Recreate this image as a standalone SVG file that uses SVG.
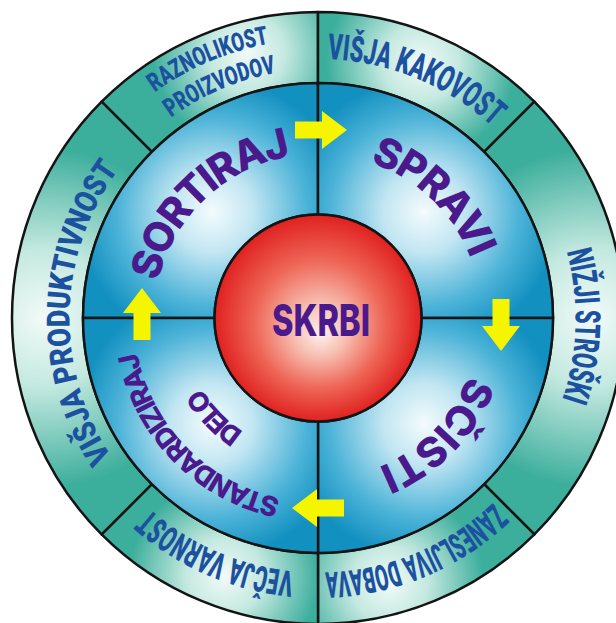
<svg xmlns="http://www.w3.org/2000/svg" width="616" height="623" viewBox="0 0 616 623">
  <defs>
    <style>
      .line{stroke:#141414;stroke-width:2.5;stroke-linejoin:round}
      .outer-txt{font-family:Roboto,'Liberation Sans',sans-serif;font-weight:900;fill:#1c51a0}
      .step-txt{font-family:Inter,'Liberation Sans',sans-serif;font-weight:800;fill:#4a1a8c}
      .arrow{fill:#f5f500}
    </style>

    <!-- outer ring segment shading -->
    <radialGradient id="gOutTL" gradientUnits="userSpaceOnUse" cx="246.8" cy="52.4" r="95">
      <stop offset="0" stop-color="#f2faf8"/><stop offset="0.4" stop-color="#c4e9e0"/><stop offset="1" stop-color="#3cae9c"/>
    </radialGradient>
    <radialGradient id="gOutTR" gradientUnits="userSpaceOnUse" cx="421" cy="63" r="95">
      <stop offset="0" stop-color="#f2faf8"/><stop offset="0.4" stop-color="#c4e9e0"/><stop offset="1" stop-color="#3cae9c"/>
    </radialGradient>
    <radialGradient id="gOutR" gradientUnits="userSpaceOnUse" cx="593" cy="318" r="170">
      <stop offset="0" stop-color="#f2faf8"/><stop offset="0.4" stop-color="#c4e9e0"/><stop offset="1" stop-color="#3cae9c"/>
    </radialGradient>
    <radialGradient id="gOutBR" gradientUnits="userSpaceOnUse" cx="389.2" cy="583.6" r="95">
      <stop offset="0" stop-color="#f2faf8"/><stop offset="0.4" stop-color="#c4e9e0"/><stop offset="1" stop-color="#3cae9c"/>
    </radialGradient>
    <radialGradient id="gOutBL" gradientUnits="userSpaceOnUse" cx="224" cy="576.4" r="95">
      <stop offset="0" stop-color="#f2faf8"/><stop offset="0.4" stop-color="#c4e9e0"/><stop offset="1" stop-color="#3cae9c"/>
    </radialGradient>
    <radialGradient id="gOutL" gradientUnits="userSpaceOnUse" cx="43" cy="318" r="170">
      <stop offset="0" stop-color="#f2faf8"/><stop offset="0.4" stop-color="#c4e9e0"/><stop offset="1" stop-color="#3cae9c"/>
    </radialGradient>

    <!-- middle ring quadrant shading -->
    <radialGradient id="gQTL" gradientUnits="userSpaceOnUse" cx="212" cy="212" r="135">
      <stop offset="0" stop-color="#f4fbfd"/><stop offset="0.3" stop-color="#c2e6f2"/><stop offset="0.7" stop-color="#4cb3d8"/><stop offset="1" stop-color="#1290c0"/>
    </radialGradient>
    <radialGradient id="gQTR" gradientUnits="userSpaceOnUse" cx="424" cy="212" r="135">
      <stop offset="0" stop-color="#f4fbfd"/><stop offset="0.3" stop-color="#c2e6f2"/><stop offset="0.7" stop-color="#4cb3d8"/><stop offset="1" stop-color="#1290c0"/>
    </radialGradient>
    <radialGradient id="gQBR" gradientUnits="userSpaceOnUse" cx="424" cy="424" r="135">
      <stop offset="0" stop-color="#f4fbfd"/><stop offset="0.3" stop-color="#c2e6f2"/><stop offset="0.7" stop-color="#4cb3d8"/><stop offset="1" stop-color="#1290c0"/>
    </radialGradient>
    <radialGradient id="gQBL" gradientUnits="userSpaceOnUse" cx="212" cy="424" r="135">
      <stop offset="0" stop-color="#f4fbfd"/><stop offset="0.3" stop-color="#c2e6f2"/><stop offset="0.7" stop-color="#4cb3d8"/><stop offset="1" stop-color="#1290c0"/>
    </radialGradient>

    <!-- centre sphere -->
    <radialGradient id="gCore" gradientUnits="userSpaceOnUse" cx="318" cy="318" r="104" fx="321" fy="334">
      <stop offset="0" stop-color="#fdf1ee"/><stop offset="0.25" stop-color="#f7c0b3"/><stop offset="0.62" stop-color="#ee6656"/><stop offset="1" stop-color="#e0201f"/>
    </radialGradient>

    <!-- baseline arcs, all centred on the top of the wheel -->
    <path id="r278" d="M39.5,318 A278.5,278.5 0 0 1 596.5,318"/>
    <path id="r259" d="M59,318 A259,259 0 0 1 577,318"/>
    <path id="r257" d="M60.5,318 A257.5,257.5 0 0 1 575.5,318"/>
    <path id="r254" d="M63.5,318 A254.5,254.5 0 0 1 572.5,318"/>
    <path id="r248" d="M69.5,318 A248.5,248.5 0 0 1 566.5,318"/>
    <path id="r184" d="M134,318 A184,184 0 0 1 502,318"/>
    <path id="r164" d="M154,318 A164,164 0 0 1 482,318"/>
    <path id="r161" d="M157,318 A161,161 0 0 1 479,318"/>
    <path id="r136" d="M182,318 A136,136 0 0 1 454,318"/>

    <path id="arrow" d="M-26,-8.5 H1 V-19 L26,0 L1,19 V8.5 H-26 Z"/>
  </defs>

  <rect width="616" height="623" fill="#ffffff"/>

  <!-- outer ring: benefits -->
  <g id="benefit-variety">
    <path class="line" fill="url(#gOutTL)" d="M318,12 A306,306 0 0 0 101.62,101.62 L151.83,151.83 A235,235 0 0 1 318,83 Z"/>
    <text class="outer-txt" font-size="26" text-anchor="middle" transform="rotate(-23 318 318)"><textPath href="#r278" startOffset="50%" textLength="125" lengthAdjust="spacingAndGlyphs">RAZNOLIKOST</textPath></text>
    <text class="outer-txt" font-size="26" text-anchor="middle" transform="rotate(-23 318 318)"><textPath href="#r248" startOffset="50%" textLength="115" lengthAdjust="spacingAndGlyphs">PROIZVODOV</textPath></text>
  </g>
  <g id="benefit-quality">
    <path class="line" fill="url(#gOutTR)" d="M318,12 A306,306 0 0 1 534.38,101.62 L484.17,151.83 A235,235 0 0 0 318,83 Z"/>
    <text class="outer-txt" font-size="36" text-anchor="middle" transform="rotate(22.2 318 318)"><textPath href="#r259" startOffset="50%" textLength="182" lengthAdjust="spacingAndGlyphs">VIŠJA KAKOVOST</textPath></text>
  </g>
  <g id="benefit-costs">
    <path class="line" fill="url(#gOutR)" d="M534.38,101.62 A306,306 0 0 1 534.38,534.38 L484.17,484.17 A235,235 0 0 0 484.17,151.83 Z"/>
    <text class="outer-txt" font-size="35" text-anchor="middle" transform="rotate(91.7 318 318)"><textPath href="#r257" startOffset="50%" textLength="150" lengthAdjust="spacingAndGlyphs">NIŽJI STROŠKI</textPath></text>
  </g>
  <g id="benefit-supply">
    <path class="line" fill="url(#gOutBR)" d="M534.38,534.38 A306,306 0 0 1 318,624 L318,553 A235,235 0 0 0 484.17,484.17 Z"/>
    <text class="outer-txt" font-size="36" text-anchor="middle" transform="rotate(157.5 318 318)"><textPath href="#r254" startOffset="50%" textLength="186" lengthAdjust="spacingAndGlyphs">ZANESLJIVA DOBAVA</textPath></text>
  </g>
  <g id="benefit-safety">
    <path class="line" fill="url(#gOutBL)" d="M318,624 A306,306 0 0 1 101.62,534.38 L151.83,484.17 A235,235 0 0 0 318,553 Z"/>
    <text class="outer-txt" font-size="36" text-anchor="middle" transform="rotate(-156.6 318 318)"><textPath href="#r254" startOffset="50%" textLength="160" lengthAdjust="spacingAndGlyphs">VEČJA VARNOST</textPath></text>
  </g>
  <g id="benefit-productivity">
    <path class="line" fill="url(#gOutL)" d="M101.62,534.38 A306,306 0 0 1 101.62,101.62 L151.83,151.83 A235,235 0 0 0 151.83,484.17 Z"/>
    <text class="outer-txt" font-size="32" text-anchor="middle" transform="rotate(-88.6 318 318)"><textPath href="#r248" startOffset="50%" textLength="306" lengthAdjust="spacingAndGlyphs">VIŠJA PRODUKTIVNOST</textPath></text>
  </g>

  <!-- middle ring: the four steps -->
  <g id="step-sortiraj">
    <path class="line" fill="url(#gQTL)" d="M318,83 A235,235 0 0 0 83,318 L214.5,318 A103.5,103.5 0 0 1 318,214.5 Z"/>
    <text class="step-txt" font-size="41" text-anchor="middle" transform="rotate(-43.3 318 318)"><textPath href="#r164" startOffset="50%" textLength="194">SORTIRAJ</textPath></text>
  </g>
  <g id="step-spravi">
    <path class="line" fill="url(#gQTR)" d="M318,83 A235,235 0 0 1 553,318 L421.5,318 A103.5,103.5 0 0 0 318,214.5 Z"/>
    <text class="step-txt" font-size="41" text-anchor="middle" transform="rotate(43.6 318 318)"><textPath href="#r164" startOffset="50%" textLength="144">SPRAVI</textPath></text>
  </g>
  <g id="step-scisti">
    <path class="line" fill="url(#gQBR)" d="M553,318 A235,235 0 0 1 318,553 L318,421.5 A103.5,103.5 0 0 0 421.5,318 Z"/>
    <text class="step-txt" font-size="41" text-anchor="middle" transform="rotate(134.4 318 318)"><textPath href="#r161" startOffset="50%" textLength="133">SČISTI</textPath></text>
  </g>
  <g id="step-standardiziraj">
    <path class="line" fill="url(#gQBL)" d="M318,553 A235,235 0 0 1 83,318 L214.5,318 A103.5,103.5 0 0 0 318,421.5 Z"/>
    <text class="step-txt" font-size="27.5" text-anchor="middle" transform="rotate(-134.5 318 318)"><textPath href="#r184" startOffset="50%" textLength="217">STANDARDIZIRAJ</textPath></text>
    <text class="step-txt" font-size="27" text-anchor="middle" transform="rotate(-133.7 318 318)"><textPath href="#r136" startOffset="50%" textLength="62">DELO</textPath></text>
  </g>

  <!-- centre -->
  <g id="core-skrbi">
    <circle class="line" cx="318" cy="318" r="103.5" fill="url(#gCore)"/>
    <text class="step-txt" x="321" y="336" font-size="44" text-anchor="middle" textLength="98" lengthAdjust="spacingAndGlyphs">SKRBI</text>
  </g>

  <!-- cycle arrows between the steps -->
  <g id="connectors" class="arrow">
    <use href="#arrow" transform="translate(321,130)"/>
    <use href="#arrow" transform="translate(501,325) rotate(90)"/>
    <use href="#arrow" transform="translate(318,508) rotate(180)"/>
    <use href="#arrow" transform="translate(142,314) rotate(-90)"/>
  </g>
</svg>
